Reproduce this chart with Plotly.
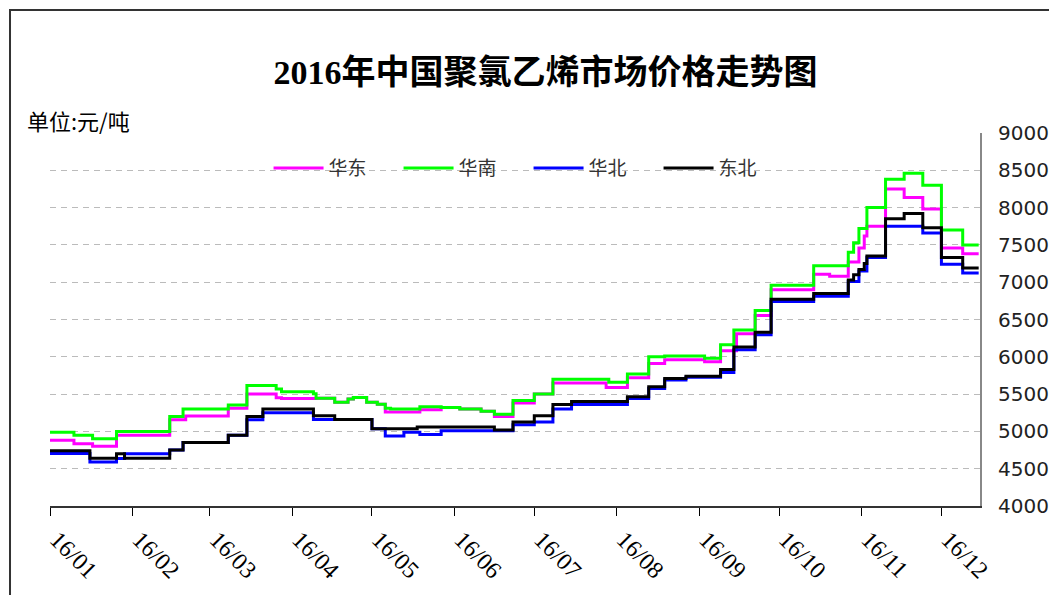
"""2016年中国聚氯乙烯市场价格走势图 - step lines by region."""

import plotly.graph_objects as go

# change dates / prices (元/吨), each price holds until the next date
east_dates = [
    "2016-01-01", "2016-01-10", "2016-01-17", "2016-01-26", "2016-02-15",
    "2016-02-21", "2016-03-08", "2016-03-15", "2016-03-26", "2016-03-28",
    "2016-04-10", "2016-04-17", "2016-04-22", "2016-04-24", "2016-04-29",
    "2016-05-03", "2016-05-06", "2016-05-19", "2016-05-27", "2016-06-03",
    "2016-06-11", "2016-06-16", "2016-06-23", "2016-07-01", "2016-07-08",
    "2016-07-28", "2016-08-05", "2016-08-13", "2016-08-19", "2016-09-03",
    "2016-09-09", "2016-09-15", "2016-09-22", "2016-09-28", "2016-10-14",
    "2016-10-20", "2016-10-27", "2016-10-31", "2016-11-02", "2016-11-03",
    "2016-11-10", "2016-11-17", "2016-11-24", "2016-12-01", "2016-12-09",
    "2016-12-15",
]
east_prices = [
    4880, 4835, 4800, 4950, 5155, 5205, 5310, 5500, 5450, 5440,
    5445, 5390, 5435, 5455, 5390, 5365, 5260, 5290, 5320, 5300,
    5270, 5200, 5380, 5500, 5650, 5590, 5720, 5910, 5960, 5935,
    6080, 6310, 6555, 6900, 7105, 7080, 7270, 7460, 7620, 7750,
    8250, 8135, 7980, 7460, 7380, 7380,
]

south_dates = [
    "2016-01-01", "2016-01-10", "2016-01-17", "2016-01-26", "2016-02-15",
    "2016-02-20", "2016-03-08", "2016-03-15", "2016-03-26", "2016-03-28",
    "2016-04-09", "2016-04-10", "2016-04-17", "2016-04-22", "2016-04-24",
    "2016-04-29", "2016-05-03", "2016-05-06", "2016-05-08", "2016-05-19",
    "2016-05-27", "2016-06-03", "2016-06-11", "2016-06-16", "2016-06-23",
    "2016-07-01", "2016-07-08", "2016-07-29", "2016-08-05", "2016-08-13",
    "2016-08-19", "2016-09-03", "2016-09-09", "2016-09-14", "2016-09-22",
    "2016-09-28", "2016-10-14", "2016-10-27", "2016-10-29", "2016-10-31",
    "2016-11-03", "2016-11-10", "2016-11-17", "2016-11-24", "2016-12-01",
    "2016-12-09", "2016-12-15",
]
south_prices = [
    4990, 4950, 4900, 5000, 5200, 5300, 5355, 5615, 5570, 5530,
    5505, 5445, 5390, 5435, 5455, 5390, 5365, 5310, 5300, 5330,
    5320, 5300, 5270, 5230, 5415, 5500, 5700, 5660, 5770, 6000,
    6010, 5980, 6160, 6360, 6620, 6960, 7220, 7400, 7530, 7720,
    8000, 8380, 8460, 8300, 7700, 7500, 7500,
]

north_dates = [
    "2016-01-01", "2016-01-16", "2016-01-26", "2016-01-29", "2016-02-15",
    "2016-02-20", "2016-03-08", "2016-03-15", "2016-03-21", "2016-04-09",
    "2016-05-01", "2016-05-06", "2016-05-13", "2016-05-19", "2016-05-27",
    "2016-06-23", "2016-07-01", "2016-07-08", "2016-07-15", "2016-08-05",
    "2016-08-13", "2016-08-19", "2016-08-27", "2016-09-09", "2016-09-14",
    "2016-09-22", "2016-09-28", "2016-10-14", "2016-10-27", "2016-10-31",
    "2016-11-03", "2016-11-10", "2016-11-24", "2016-12-01", "2016-12-09",
    "2016-12-15",
]
north_prices = [
    4705, 4590, 4636, 4700, 4750, 4850, 4950, 5155, 5250, 5160,
    5035, 4940, 4990, 4960, 5010, 5090, 5125, 5300, 5360, 5440,
    5575, 5690, 5725, 5790, 6095, 6295, 6740, 6810, 7010, 7150,
    7330, 7750, 7660, 7240, 7125, 7125,
]

northeast_dates = [
    "2016-01-01", "2016-01-16", "2016-01-26", "2016-01-29", "2016-02-15",
    "2016-02-20", "2016-03-08", "2016-03-15", "2016-03-21", "2016-04-09",
    "2016-04-17", "2016-05-01", "2016-05-18", "2016-06-16", "2016-06-23",
    "2016-07-01", "2016-07-08", "2016-07-15", "2016-08-05", "2016-08-13",
    "2016-08-19", "2016-08-27", "2016-09-09", "2016-09-14", "2016-09-22",
    "2016-09-28", "2016-10-14", "2016-10-27", "2016-10-29", "2016-10-31",
    "2016-11-02", "2016-11-03", "2016-11-10", "2016-11-17", "2016-11-24",
    "2016-12-01", "2016-12-09", "2016-12-15",
]
northeast_prices = [
    4740, 4640, 4700, 4640, 4750, 4850, 4950, 5200, 5300, 5210,
    5160, 5035, 5060, 5020, 5125, 5210, 5360, 5400, 5465, 5600,
    5710, 5740, 5830, 6130, 6330, 6770, 6850, 7030, 7100, 7170,
    7250, 7350, 7850, 7920, 7730, 7330, 7190, 7190,
]

series = [
    ("华东", east_dates, east_prices, "#FF00FF"),
    ("华南", south_dates, south_prices, "#00FF00"),
    ("华北", north_dates, north_prices, "#0000FF"),
    ("东北", northeast_dates, northeast_prices, "#000000"),
]

CJK = "Noto Sans CJK SC"

fig = go.Figure()
for name, dates, prices, color in series:
    fig.add_trace(
        go.Scatter(
            x=dates,
            y=prices,
            name=name,
            mode="lines",
            line=dict(color=color, width=3, shape="hv"),
        )
    )

fig.update_layout(
    width=1049,
    height=595,
    margin=dict(l=50, r=69, t=133, b=89),
    paper_bgcolor="white",
    plot_bgcolor="white",
    title=dict(
        text="<b>2016年中国聚氯乙烯市场价格走势图</b>",
        font=dict(family="Liberation Serif, " + CJK, size=34, color="black"),
        x=0.52,
        xanchor="center",
        y=0.879,
        yanchor="middle",
    ),
    legend=dict(
        orientation="h",
        x=0.235,
        xanchor="left",
        y=0.906,
        yanchor="middle",
        font=dict(family=CJK, size=19, color="#333333"),
        entrywidth=65,
        entrywidthmode="pixels",
        itemwidth=50,
        bgcolor="rgba(0,0,0,0)",
    ),
    xaxis=dict(
        type="date",
        range=["2016-01-01", "2016-12-15 12:00"],
        tick0="2016-01-01",
        dtick="M1",
        tickformat="%y/%m",
        tickangle=45,
        ticks="outside",
        ticklen=8,
        tickcolor="black",
        showline=True,
        linecolor="#333333",
        linewidth=2,
        showgrid=False,
        zeroline=False,
        automargin=False,
        ticklabelstandoff=0,
        ticklabelshift=7,
        tickfont=dict(family="Liberation Serif", size=24, color="black"),
    ),
    yaxis=dict(
        side="right",
        range=[4000, 9000],
        dtick=500,
        showline=True,
        linecolor="#888888",
        linewidth=2,
        showgrid=True,
        gridcolor="#BBBBBB",
        griddash="6px,5px",
        zeroline=False,
        automargin=False,
        ticks="",
        ticklabelstandoff=12,
        tickfont=dict(family="DejaVu Sans", size=20, color="#222222"),
    ),
    yaxis2=dict(
        overlaying="y",
        side="left",
        range=[4000, 9000],
        dtick=500,
        showline=True,
        linecolor="black",
        linewidth=2,
        ticks="inside",
        ticklen=5,
        tickcolor="black",
        showticklabels=False,
        showgrid=False,
        zeroline=False,
        automargin=False,
    ),
    annotations=[
        dict(
            text="单位:元/吨",
            xref="paper",
            yref="paper",
            x=-0.027,
            y=1.035,
            xanchor="left",
            yanchor="middle",
            showarrow=False,
            font=dict(family=CJK, size=22, color="black"),
        )
    ],
    shapes=[
        dict(
            type="rect",
            xref="paper",
            yref="paper",
            x0=-0.043,
            x1=1.3,
            y0=-0.4,
            y1=1.33,
            line=dict(color="#333333", width=2),
            layer="below",
        )
    ],
)

fig.write_html(
    "out.html",
    config={"displayModeBar": False},
    post_script="document.body.style.margin = '0';",
)
